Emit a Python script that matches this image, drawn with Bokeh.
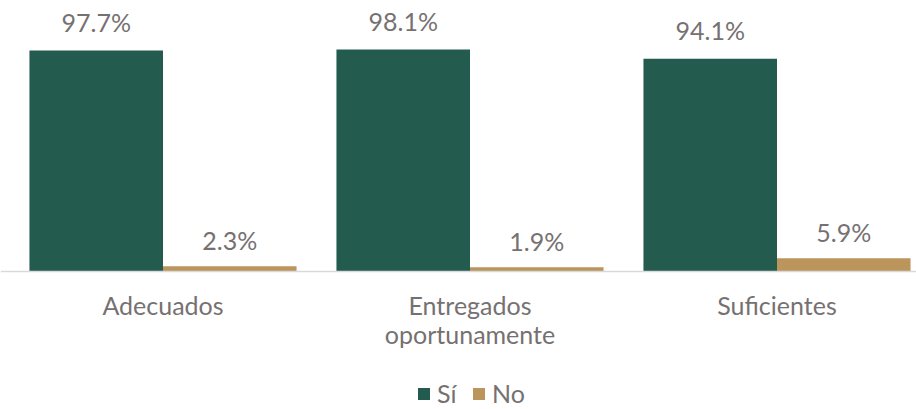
from bokeh.plotting import figure
from bokeh.models import ColumnDataSource, Range1d, Legend, LegendItem
from bokeh.core.properties import value
from bokeh.embed import file_html
from bokeh.resources import INLINE

categories = ["Adecuados", "Entregados\noportunamente", "Suficientes"]
si_values = [97.7, 98.1, 94.1]
no_values = [2.3, 1.9, 5.9]
series_names = ["Sí", "No"]

GREEN = "#235B4E"
TAN = "#BC955C"
TEXT = "#767171"
FONT = "Lato"
FS = "25px"

W, H = 916, 409
axis_px = 271.0          # distance of the baseline from the top of the canvas
px_per_unit = 2.262      # pixels per percentage point
cat_px = 307.0           # pixels per category
base_fix = 12.0          # glyph baseline correction, px

idx = list(range(len(categories)))
bar_w = 0.435
si_x = [i - bar_w / 2 for i in idx]
no_x = [i + bar_w / 2 for i in idx]

src_si = ColumnDataSource(dict(
    x=si_x, top=si_values,
    ly=[v + (17 + base_fix) / px_per_unit for v in si_values],
    label=[f"{v:.1f}%" for v in si_values]))
src_no = ColumnDataSource(dict(
    x=no_x, top=no_values,
    ly=[v + (14 + base_fix) / px_per_unit for v in no_values],
    label=[f"{v:.1f}%" for v in no_values]))

# category labels, one text entry per line
cx, cy, ct = [], [], []
for i, c in zip(idx, categories):
    for k, line in enumerate(c.split("\n")):
        cx.append(i)
        cy.append(-(45 - base_fix + 29 * k) / px_per_unit)
        ct.append(line)
src_cat = ColumnDataSource(dict(x=cx, y=cy, label=ct))

x_start = -0.5 - 9.0 / cat_px
x_end = x_start + W / cat_px
y_end = axis_px / px_per_unit
y_start = -(H - axis_px) / px_per_unit

p = figure(width=W, height=H, output_backend="svg", toolbar_location=None,
           x_range=Range1d(x_start, x_end), y_range=Range1d(y_start, y_end),
           x_axis_location=None, y_axis_location=None,
           min_border_left=0, min_border_right=0,
           min_border_top=0, min_border_bottom=0)
p.outline_line_color = None
p.grid.visible = False

r_si = p.vbar(x="x", top="top", bottom=0, width=bar_w, source=src_si,
              fill_color=GREEN, line_color=None)
r_no = p.vbar(x="x", top="top", bottom=0, width=bar_w, source=src_no,
              fill_color=TAN, line_color=None)
p.hspan(y=[0], line_color="#d9d9d9", line_width=1.5)

for src in (src_si, src_no):
    p.text(x="x", y="ly", text="label", source=src, text_align="center",
           text_baseline="alphabetic", text_color=TEXT,
           text_font=value(FONT), text_font_size=FS)

p.text(x="x", y="y", text="label", source=src_cat, text_align="center",
       text_baseline="alphabetic", text_color=TEXT, text_font=value(FONT),
       text_font_size=FS)

legend = Legend(items=[LegendItem(label=series_names[0], renderers=[r_si]),
                       LegendItem(label=series_names[1], renderers=[r_no])],
                orientation="horizontal", location=(416, 1),
                glyph_width=15, glyph_height=15, label_text_font=FONT,
                label_text_font_size=FS, label_text_color=TEXT,
                border_line_color=None, background_fill_alpha=0,
                spacing=14, label_standoff=6, margin=0, padding=0)
p.add_layout(legend, "center")

open("out.html", "w").write(file_html(p, INLINE))
